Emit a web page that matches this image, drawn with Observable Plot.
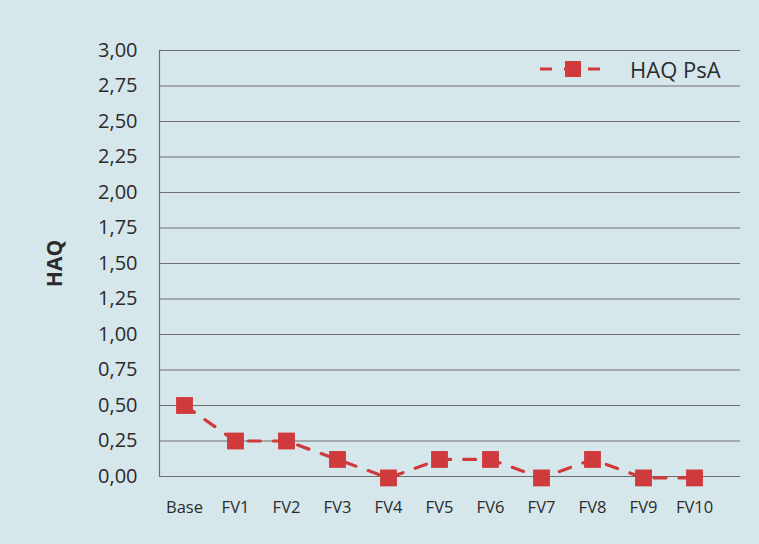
<!DOCTYPE html>
<html>
<head>
<meta charset="utf-8">
<script src="https://cdn.jsdelivr.net/npm/d3@7"></script>
<script src="https://cdn.jsdelivr.net/npm/@observablehq/plot@0.6"></script>
<style>
  html, body { margin: 0; padding: 0; background: #d6e7eb; }
  #wrap { position: relative; width: 759px; height: 544px; overflow: hidden; }
  #legend { position: absolute; left: 538px; top: 54px; display: flex; align-items: center;
            font-family: "Open Sans", "Noto Sans", sans-serif; font-size: 22px; color: #2b2b2b; }
  #legend span { margin-left: 22px; }
</style>
</head>
<body>
<div id="wrap">
  <div id="chart"></div>
  <div id="legend">
    <svg width="70" height="20">
      <line x1="2" x2="68" y1="10" y2="10" stroke="#cf3a3c" stroke-width="3" stroke-dasharray="12,12"/>
      <rect x="27" y="2" width="16" height="16" fill="#cf3a3c"/>
    </svg>
    <span>HAQ PsA</span>
  </div>
</div>
<script>
const categories = ["Base", "FV1", "FV2", "FV3", "FV4", "FV5", "FV6", "FV7", "FV8", "FV9", "FV10"];
const haqPsA = [0.50, 0.25, 0.25, 0.12, -0.01, 0.12, 0.12, -0.01, 0.12, -0.01, -0.01];
const yTicks = [0, 0.25, 0.5, 0.75, 1, 1.25, 1.5, 1.75, 2, 2.25, 2.5, 2.75, 3];
const seriesName = "HAQ PsA";
const yLabel = "HAQ";

const data = categories.map((c, i) => ({cat: c, v: haqPsA[i]}));
const red = "#cf3a3c";

const chart = Plot.plot({
  width: 759,
  height: 544,
  marginTop: 50,
  marginBottom: 68,
  marginLeft: 159,
  marginRight: 19,
  style: {background: "transparent", fontFamily: "'Open Sans', 'Noto Sans', sans-serif", color: "#2b2b2b"},
  x: {type: "point", domain: categories, padding: 0, insetLeft: 25, insetRight: 46},
  y: {domain: [0, 3]},
  marks: [
    Plot.gridY(yTicks, {stroke: "#6e6e6e", strokeOpacity: 1, strokeWidth: 1.2}),
    Plot.frame({anchor: "left", stroke: "#6e6e6e", strokeWidth: 1.2}),
    Plot.axisY(yTicks, {tickSize: 0, tickPadding: 22, fontSize: 20, tickFormat: d => d.toFixed(2).replace(".", ","), label: null}),
    Plot.text([yLabel], {frameAnchor: "left", textAnchor: "middle", dx: -104, rotate: -90, fontSize: 21, fontWeight: "bold", fill: "#2b2b2b"}),
    Plot.axisX({tickSize: 0, tickPadding: 25, fontSize: 16.5, label: null}),
    Plot.line(data, {x: "cat", y: "v", stroke: red, strokeWidth: 3.2, strokeDasharray: "12,13"}),
    Plot.dot(data, {x: "cat", y: "v", symbol: "square", r: 9.5, fill: red, stroke: "none"})
  ]
});
document.getElementById("chart").appendChild(chart);
</script>
</body>
</html>
